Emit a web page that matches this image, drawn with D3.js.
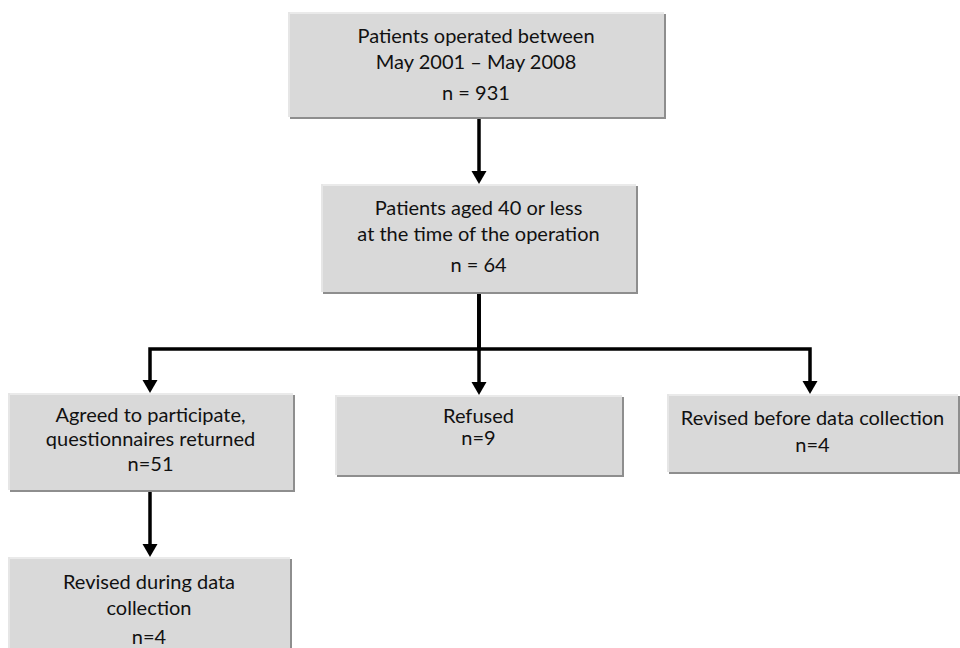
<!DOCTYPE html>
<html><head><meta charset="utf-8">
<script src="https://cdn.jsdelivr.net/npm/d3@7/dist/d3.min.js"></script>
<style>html,body{margin:0;padding:0;background:#fff;}svg{display:block;}</style>
</head><body>
<script>
// ---- data ----
const boxIds = ["operated", "aged40", "agreed", "refused", "revisedBefore", "revisedDuring"];
const boxTitles = [
  ["Patients operated between", "May 2001 \u2013 May 2008"],
  ["Patients aged 40 or less", "at the time of the operation"],
  ["Agreed to participate,", "questionnaires returned"],
  ["Refused"],
  ["Revised before data collection"],
  ["Revised during data", "collection"]
];
const boxCounts = [931, 64, 51, 9, 4, 4];
const countFormats = ["n = ", "n = ", "n=", "n=", "n=", "n="];
const links = [["operated","aged40"],["aged40","agreed"],["aged40","refused"],["aged40","revisedBefore"],["agreed","revisedDuring"]];

// ---- layout (positions & styles) ----
const layout = {
  operated:      {x:288, y:12,  w:376, h:105, lines:[43,69,100]},
  aged40:        {x:321, y:184, w:315, h:108, lines:[215,241,272]},
  agreed:        {x:8,   y:393, w:285, h:97,  lines:[422,446,471]},
  refused:       {x:335, y:395, w:287, h:80,  lines:[423,445]},
  revisedBefore: {x:667, y:394, w:291, h:78,  lines:[425,452]},
  revisedDuring: {x:8,   y:557, w:282, h:110, lines:[589,615,644]}
};
const branchY = 349;

const W = 960, H = 648;
const svg = d3.select("body").append("svg").attr("width", W).attr("height", H);

const nodes = boxIds.map((id,i)=>({id, title: boxTitles[i], count: boxCounts[i], fmt: countFormats[i], ...layout[id]}));
const byId = Object.fromEntries(nodes.map(n=>[n.id,n]));

// boxes
const g = svg.selectAll("g.box").data(nodes).join("g").attr("class","box");
g.append("rect").attr("x",d=>d.x+2).attr("y",d=>d.y+2).attr("width",d=>d.w).attr("height",d=>d.h).attr("fill","#8e8e8e");
g.append("rect").attr("x",d=>d.x).attr("y",d=>d.y).attr("width",d=>d.w).attr("height",d=>d.h).attr("fill","#d9d9d9");
g.append("rect").attr("x",d=>d.x).attr("y",d=>d.y).attr("width",d=>d.w).attr("height",2).attr("fill","#eaeaea");
g.append("rect").attr("x",d=>d.x).attr("y",d=>d.y).attr("width",2).attr("height",d=>d.h).attr("fill","#e6e6e6");

g.each(function(d){
  const sel = d3.select(this);
  const texts = d.title.concat([d.fmt + d.count]);
  sel.selectAll("text").data(texts).join("text")
    .attr("x", d.x + d.w/2)
    .attr("y", (t,i)=>d.lines[i])
    .attr("text-anchor","middle")
    .attr("font-family","Lato, 'Open Sans', sans-serif")
    .attr("font-size", 20)
    .attr("fill","#111")
    .text(t=>t);
});

// connectors
const lineG = svg.append("g").attr("stroke","#000").attr("stroke-width",3.5).attr("fill","none");
const arrowG = svg.append("g").attr("fill","#000");
function cx(n){ return Math.round(n.x + n.w/2); }
const ah = 13, aw = 7.5;
function arrow(x, yTip){
  arrowG.append("path").attr("d", d3.line()([[x-aw, yTip-ah],[x+aw, yTip-ah],[x, yTip]]) + "Z");
}
links.forEach(([s,t])=>{
  const a = byId[s], b = byId[t];
  const x1 = s==="aged40" ? 479 : cx(a);
  const x2 = t==="agreed" ? 150 : t==="refused" ? 479 : t==="revisedBefore" ? 810 : t==="revisedDuring" ? 150 : 479;
  const y1 = a.y + a.h + 2, y2 = b.y;
  let pts;
  if (s === "aged40") {
    pts = [[x1,y1],[x1,branchY],[x2,branchY],[x2,y2-ah+1]];
  } else {
    pts = [[x2,y1],[x2,y2-ah+1]];
  }
  lineG.append("path").attr("d", d3.line()(pts)).attr("stroke-linejoin","miter");
  arrow(x2, y2);
});
</script>
</body></html>
